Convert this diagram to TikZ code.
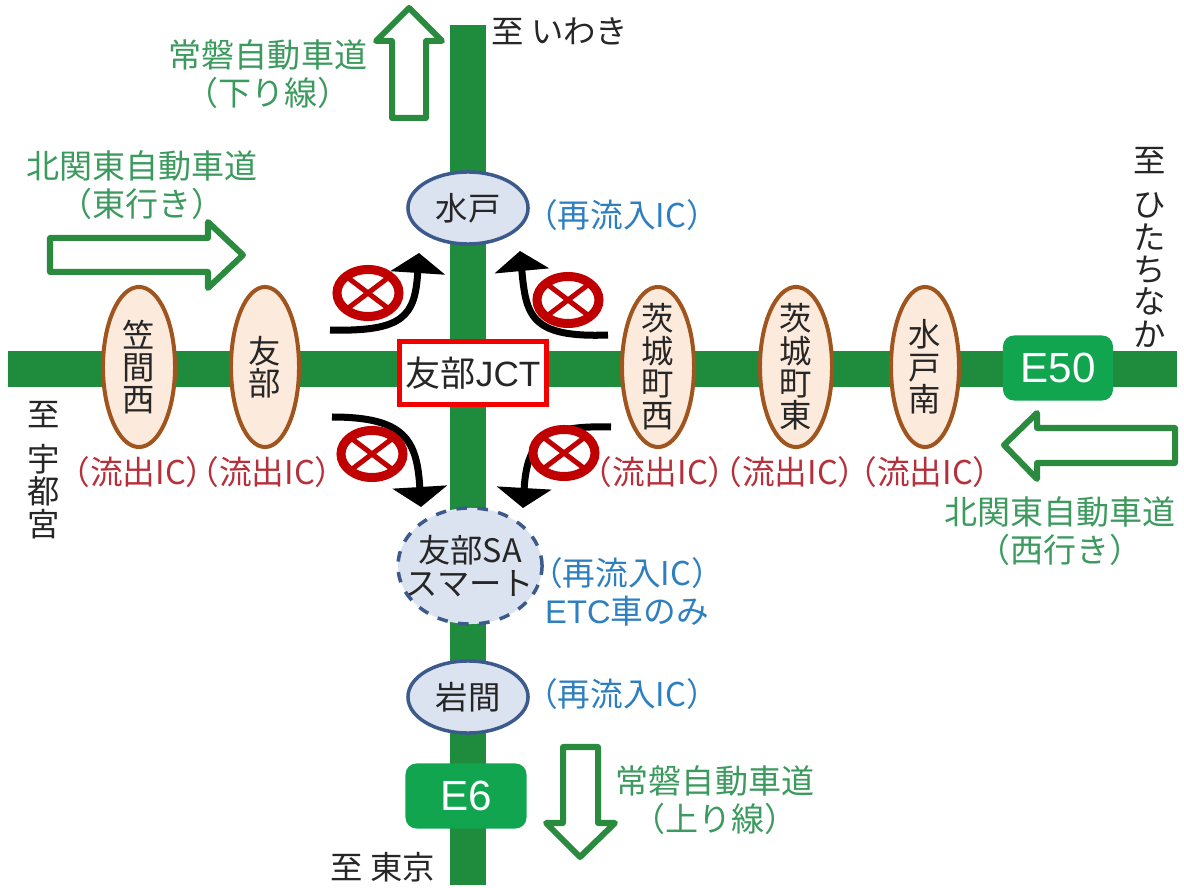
\documentclass[tikz,border=0pt]{standalone}
\usepackage{fontspec}
\setmainfont{Noto Sans CJK JP}
\newfontfamily\roadfont{Liberation Sans}
\usetikzlibrary{shapes.geometric,arrows.meta}
\definecolor{roadgreen}{RGB}{30,140,60}
\definecolor{signgreen}{RGB}{18,165,80}
\definecolor{arrowgreen}{RGB}{42,138,62}
\definecolor{textgreen}{RGB}{60,154,94}
\definecolor{textblue}{RGB}{46,127,191}
\definecolor{textred}{RGB}{181,48,58}
\definecolor{ramped}{RGB}{192,0,0}
\definecolor{icfill}{RGB}{220,227,240}
\definecolor{icline}{RGB}{60,90,140}
\definecolor{exitfill}{RGB}{252,234,220}
\definecolor{exitline}{RGB}{160,85,30}
\tikzset{
  jptext/.style={font=\fontsize{9.2}{9.2}\selectfont,text=black!85,align=center,inner sep=0pt},
  greentext/.style={jptext,text=textgreen,font=\fontsize{9.4}{10.8}\selectfont},
  bluetext/.style={jptext,text=textblue,font=\fontsize{9.3}{10.8}\selectfont},
  redtext/.style={jptext,text=textred,font=\fontsize{9.3}{10}\selectfont},
  road/.style={line width=.36cm,roadgreen},
  blockarrow/.style={line width=.06cm,arrowgreen,fill=white,line join=round},
  turn/.style={line width=.07cm,-{Triangle[length=.2cm,width=.54cm]}},
  reentry/.style={ellipse,draw=icline,fill=icfill,line width=.035cm,inner sep=0pt,minimum width=1.2cm,minimum height=.72cm},
  exitic/.style={ellipse,draw=exitline,fill=exitfill,line width=.04cm,inner sep=0pt,minimum width=.72cm,minimum height=1.6cm},
  roadsign/.style={rectangle,rounded corners=.11cm,fill=signgreen,text=white,font=\roadfont\fontsize{12}{12}\selectfont,inner sep=0pt},
  noentry/.style={ellipse,draw=ramped,fill=white,line width=.09cm,inner sep=0pt,minimum width=.62cm,minimum height=.47cm,
    path picture={\draw[ramped,line width=.05cm] (path picture bounding box.north west) -- (path picture bounding box.south east)
      (path picture bounding box.north east) -- (path picture bounding box.south west);}},
}
\begin{document}
\begin{tikzpicture}[x=.01cm,y=-.01cm]
\useasboundingbox (0,0) rectangle (1184,888);
% roads
\coordinate (roadN) at (468,25);
\coordinate (roadS) at (468,885);
\coordinate (roadW) at (8,369);
\coordinate (roadE) at (1177,369);
\draw[road] (roadN) -- (roadS);
\draw[road] (roadW) -- (roadE);
% big green arrows
\draw[blockarrow] (409,8) -- (442,41) -- (426,41) -- (426,118) -- (392,118) -- (392,41) -- (376,41) -- cycle;
\draw[blockarrow] (243,255) -- (208,288) -- (208,272) -- (50,272) -- (50,238) -- (208,238) -- (208,222) -- cycle;
\draw[blockarrow] (1004,445) -- (1037,413) -- (1037,428) -- (1175,428) -- (1175,463) -- (1037,463) -- (1037,479) -- cycle;
\draw[blockarrow] (580,857) -- (546,823) -- (563,823) -- (563,747) -- (598,747) -- (598,823) -- (615,823) -- cycle;
% black turns
\coordinate (turnAa) at (330,330);
\coordinate (turnAb) at (419,253);
\coordinate (turnBa) at (608,335);
\coordinate (turnBb) at (520,251);
\coordinate (turnCa) at (332,417);
\coordinate (turnCb) at (421,507);
\coordinate (turnDa) at (611,427);
\coordinate (turnDb) at (523,508);
\draw[turn] (turnAa) .. controls (405,332) and (415,315) .. (turnAb);
\draw[turn] (turnBa) .. controls (530,338) and (526,315) .. (turnBb);
\draw[turn] (turnCa) .. controls (405,417) and (417,440) .. (turnCb);
\draw[turn] (turnDa) .. controls (545,425) and (527,440) .. (turnDb);
\node[noentry] (stopA) at (368,293){};
\node[noentry] (stopB) at (568,300){};
\node[noentry] (stopC) at (372,454){};
\node[noentry] (stopD) at (564,453){};
% interchanges
\node[reentry,label={[jptext]center:水戸}] (mito) at (468,208){};
\node[reentry,dashed,minimum width=1.44cm,minimum height=1.16cm,label={[jptext]center:友部SA\\スマート}] (tomobesa) at (470,566){};
\node[reentry,label={[jptext]center:岩間}] (iwama) at (468,697){};
\node[exitic,label={[jptext]center:笠\\間\\西}] (kasama) at (139,367){};
\node[exitic,minimum width=.68cm,label={[jptext]center:友\\部}] (tomobe) at (265,367){};
\node[exitic,label={[jptext]center:茨\\城\\町\\西}] (ibarakiW) at (658,367){};
\node[exitic,label={[jptext]center:茨\\城\\町\\東}] (ibarakiE) at (796,367){};
\node[exitic,minimum width=.68cm,label={[jptext]center:水\\戸\\南}] (mitominami) at (925,367){};
% junction and signs
\node[rectangle,draw=red!95!black,fill=white,line width=.05cm,minimum width=1.47cm,minimum height=.63cm,jptext,font=\fontsize{10}{10}\selectfont,inner sep=0pt] (jct) at (473,373){友部{\roadfont JCT}};
\node[roadsign,minimum width=1.1cm,minimum height=.65cm] (esign) at (1058,368){E50};
\node[roadsign,minimum width=1.21cm,minimum height=.65cm] (ssign) at (466,796){E6};
% destinations
\node[jptext] (toN) at (560,31){至 いわき};
\node[jptext] (toS) at (383,867){至 東京};
\node[jptext] (toW) at (44,470){至\\[3.5pt]宇\\都\\宮};
\node[jptext] (toE) at (1150,247){至\\[3.5pt]ひ\\た\\ち\\な\\か};
% labels
\node[greentext] (labN) at (268,74){常磐自動車道\\（下り線）};
\node[greentext] (labEb) at (142,185){北関東自動車道\\（東行き）};
\node[greentext] (labWb) at (1060,531){北関東自動車道\\（西行き）};
\node[greentext] (labS) at (715,800){常磐自動車道\\（上り線）};
\node[bluetext] (reMito) at (622,215){（再流入IC）};
\node[bluetext] (reSa) at (627,592){（再流入IC）\\{\roadfont ETC}車のみ};
\node[bluetext] (reIwama) at (622,694){（再流入IC）};
\node[redtext] (exA) at (138,472){（流出IC）};
\node[redtext] (exB) at (267,472){（流出IC）};
\node[redtext] (exC) at (660,472){（流出IC）};
\node[redtext] (exD) at (790,472){（流出IC）};
\node[redtext] (exE) at (925,472){（流出IC）};
\end{tikzpicture}
\end{document}
